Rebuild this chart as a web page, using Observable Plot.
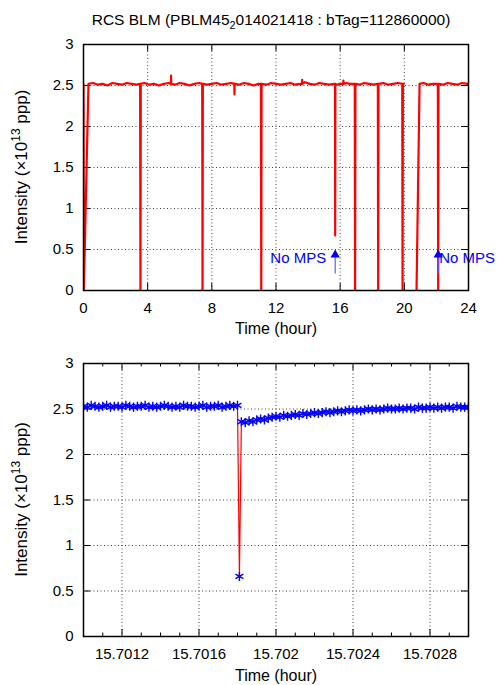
<!DOCTYPE html>
<html><head><meta charset="utf-8">
<script src="https://cdn.jsdelivr.net/npm/d3@7"></script>
<script src="https://cdn.jsdelivr.net/npm/@observablehq/plot@0.6"></script>
<style>
body{margin:0;background:#fff;}
#wrap{position:relative;width:497px;height:685px;font-family:"Liberation Sans",Arial,sans-serif;}
#title{position:absolute;top:12px;left:271px;transform:translateX(-50%);white-space:nowrap;font-size:15.5px;line-height:15px;color:#000;}
#title sub{font-size:70%;vertical-align:-4px;line-height:0;}
#p1{position:absolute;top:30px;left:0;}
#p2{position:absolute;top:345px;left:0;}
</style></head>
<body><div id="wrap"><div id="title">RCS BLM (PBLM45<sub>2</sub>014021418 : bTag=112860000)</div><div id="p1"></div><div id="p2"></div></div>
<script>
// ---------- data: top panel (24 h overview) ----------
const topTime = [0.00,0.02,0.31,0.6,0.9,1.2,1.5,1.8,2.1,2.4,2.7,3.0,3.3,3.53,3.55,3.57,3.8,4.1,4.4,4.7,5.0,5.3,5.45,5.46,5.47,5.7,6.0,6.3,6.6,6.9,7.2,7.40,7.42,7.44,7.7,8.0,8.3,8.6,8.9,9.2,9.40,9.41,9.42,9.7,10.0,10.3,10.6,10.9,11.06,11.08,11.10,11.4,11.7,12.0,12.3,12.6,12.9,13.2,13.5,13.62,13.63,13.64,13.8,14.1,14.4,14.7,15.0,15.3,15.68,15.69,15.70,15.8,16.0,16.19,16.2,16.21,16.4,16.6,16.91,16.93,16.95,17.2,17.5,17.8,18.1,18.35,18.37,18.39,18.7,19.0,19.3,19.6,19.87,19.89,19.91,19.97,19.98,20.76,20.95,21.2,21.5,21.8,22.09,22.11,22.13,22.4,22.7,23.0,23.3,23.6,24.0];
const topValue = [2.52,0.00,2.52,2.53,2.51,2.52,2.50,2.53,2.52,2.51,2.53,2.52,2.51,2.52,0.00,2.52,2.53,2.51,2.52,2.50,2.52,2.53,2.52,2.62,2.52,2.51,2.53,2.52,2.50,2.52,2.53,2.52,0.00,2.52,2.51,2.52,2.53,2.51,2.52,2.53,2.52,2.39,2.52,2.51,2.53,2.52,2.50,2.52,2.52,0.00,2.52,2.51,2.53,2.52,2.51,2.52,2.53,2.51,2.52,2.52,2.57,2.52,2.54,2.52,2.51,2.53,2.52,2.51,2.52,0.67,2.52,2.51,2.52,2.52,2.56,2.52,2.53,2.52,2.52,0.00,2.52,2.51,2.53,2.52,2.51,2.52,0.00,2.52,2.53,2.51,2.52,2.53,2.52,0.00,2.52,2.52,null,0.00,2.52,2.53,2.51,2.52,2.52,0.00,2.52,2.51,2.53,2.52,2.51,2.53,2.52];
const mpsTime = [15.69, 22.11];
const mpsLabel = ["No MPS", "No MPS"];

// ---------- data: bottom panel (zoom on 15.7 h) ----------
const botTime = [15.70100,15.70102,15.70104,15.70106,15.70108,15.70110,15.70112,15.70114,15.70116,15.70118,
15.70120,15.70122,15.70124,15.70126,15.70128,15.70130,15.70132,15.70134,15.70136,15.70138,
15.70140,15.70142,15.70144,15.70146,15.70148,15.70150,15.70152,15.70154,15.70156,15.70158,
15.70160,15.70162,15.70164,15.70166,15.70168,15.70170,15.70172,15.70174,15.70176,15.70178,15.70180,
15.70181,15.70182,
15.70184,15.70186,15.70188,15.70190,15.70192,15.70194,15.70196,15.70198,
15.70200,15.70202,15.70204,15.70206,15.70208,15.70210,15.70212,15.70214,15.70216,15.70218,
15.70220,15.70222,15.70224,15.70226,15.70228,15.70230,15.70232,15.70234,15.70236,15.70238,
15.70240,15.70242,15.70244,15.70246,15.70248,15.70250,15.70252,15.70254,15.70256,15.70258,
15.70260,15.70262,15.70264,15.70266,15.70268,15.70270,15.70272,15.70274,15.70276,15.70278,
15.70280,15.70282,15.70284,15.70286,15.70288,15.70290,15.70292,15.70294,15.70296,15.70298,15.70300];
const botValue = [2.53,2.52,2.54,2.53,2.52,2.53,2.54,2.52,2.53,2.53,
2.52,2.54,2.53,2.52,2.53,2.53,2.54,2.52,2.53,2.52,
2.53,2.54,2.53,2.52,2.53,2.52,2.54,2.53,2.53,2.52,
2.53,2.54,2.52,2.53,2.53,2.54,2.52,2.53,2.54,2.53,2.54,
0.66,2.36,
2.35,2.37,2.36,2.38,2.39,2.38,2.40,2.41,
2.42,2.41,2.43,2.42,2.43,2.44,2.43,2.45,2.44,2.45,
2.46,2.45,2.46,2.47,2.46,2.47,2.48,2.47,2.48,2.49,
2.48,2.49,2.48,2.49,2.50,2.49,2.50,2.49,2.50,2.51,
2.50,2.50,2.51,2.50,2.51,2.51,2.50,2.52,2.51,2.51,
2.52,2.51,2.52,2.51,2.52,2.52,2.51,2.53,2.52,2.52,2.52];

// ---------- ticks ----------
const yTicks = [0, 0.5, 1, 1.5, 2, 2.5, 3];
const yTickLabels = ["0", "0.5", "1", "1.5", "2", "2.5", "3"];
const topXTicks = [0, 4, 8, 12, 16, 20, 24];
const topXTickLabels = ["0", "4", "8", "12", "16", "20", "24"];
const botXTicks = [15.7012, 15.7016, 15.7020, 15.7024, 15.7028];
const botXTickLabels = ["15.7012", "15.7016", "15.702", "15.7024", "15.7028"];
const botXMinor = [15.7011, 15.7013, 15.7014, 15.7015, 15.7017, 15.7018, 15.7019, 15.7021, 15.7022, 15.7023, 15.7025, 15.7026, 15.7027, 15.7029];

const FONT = '"Liberation Sans", Arial, sans-serif';
const topData = topTime.map((t, i) => ({t, v: topValue[i]}));
const botData = botTime.map((t, i) => ({t, v: botValue[i]}));
const mps = mpsTime.map((t, i) => ({t, label: mpsLabel[i]}));
const gridStyle = {stroke: "#000", strokeOpacity: 0.75, strokeDasharray: "1,2.5", strokeWidth: 1};
const tickStyle = {stroke: "#000", strokeWidth: 1};

function yTitle(svg, cx, cy) {
  const t = d3.select(svg).append("text")
    .attr("transform", `translate(${cx},${cy}) rotate(-90)`)
    .attr("text-anchor", "middle")
    .attr("font-family", FONT).attr("font-size", 17).attr("fill", "#000");
  t.append("tspan").text("Intensity (\u00d710");
  t.append("tspan").attr("font-size", 12).attr("dy", -7).text("13");
  t.append("tspan").attr("dy", 7).text(" ppp)");
}
function xTitle(svg, cx, y) {
  d3.select(svg).append("text").attr("x", cx).attr("y", y)
    .attr("text-anchor", "middle").attr("font-family", FONT).attr("font-size", 16).attr("fill", "#000")
    .text("Time (hour)");
}

// ---------- top panel ----------
const p1 = Plot.plot({
  width: 497, height: 315, marginTop: 14, marginBottom: 55, marginLeft: 83, marginRight: 29,
  style: {fontFamily: FONT, fontSize: "15px", background: "white", color: "black", overflow: "visible"},
  x: {domain: [0, 24]},
  y: {domain: [0, 3]},
  marks: [
    Plot.ruleX(topXTicks.slice(1, -1), gridStyle),
    Plot.ruleY(yTicks.slice(1, -1), gridStyle),
    Plot.ruleX(topXTicks, {...tickStyle, y1: 0, y2: 0.085}),
    Plot.ruleX(topXTicks, {...tickStyle, y1: 3, y2: 2.915}),
    Plot.ruleY(yTicks, {...tickStyle, x1: 0, x2: 0.436}),
    Plot.ruleY(yTicks, {...tickStyle, x1: 24, x2: 23.564}),
    Plot.line(topData, {x: "t", y: "v", stroke: "#ff0000", strokeWidth: 2.2, clip: true}),
    Plot.ruleX(mps, {x: "t", y1: 0.2, y2: 0.44, stroke: "#5c5cff", strokeWidth: 1.2}),
    Plot.dot(mps, {x: "t", y: 0.434, symbol: "triangle", r: 3.45, fill: "#0000ff", stroke: "none"}),
    Plot.text(mps.slice(0, 1), {x: "t", y: 0.39, text: "label", textAnchor: "end", dx: -9, fill: "#0000ff", fontSize: 15}),
    Plot.text(mps.slice(1, 2), {x: "t", y: 0.39, text: "label", textAnchor: "start", dx: 1, fill: "#0000ff", fontSize: 15}),
    Plot.frame({stroke: "#000", strokeWidth: 1.5}),
    Plot.axisX(topXTicks, {tickSize: 0, tickPadding: 12, label: null, tickFormat: d => topXTickLabels[topXTicks.indexOf(d)]}),
    Plot.axisY(yTicks, {tickSize: 0, tickPadding: 10, label: null, tickFormat: d => yTickLabels[yTicks.indexOf(d)]})
  ]
});
yTitle(p1, 27, 137);
xTitle(p1, 276, 304);
document.getElementById("p1").appendChild(p1);

// ---------- bottom panel ----------
const p2 = Plot.plot({
  width: 497, height: 340, marginTop: 18, marginBottom: 49, marginLeft: 83, marginRight: 29,
  style: {fontFamily: FONT, fontSize: "15px", background: "white", color: "black", overflow: "visible"},
  x: {domain: [15.7010, 15.7030]},
  y: {domain: [0, 3]},
  marks: [
    Plot.ruleX(botXTicks, gridStyle),
    Plot.ruleY(yTicks.slice(1, -1), gridStyle),
    Plot.ruleX(botXTicks, {...tickStyle, y1: 0, y2: 0.077}),
    Plot.ruleX(botXTicks, {...tickStyle, y1: 3, y2: 2.923}),
    Plot.ruleX(botXMinor, {...tickStyle, y1: 0, y2: 0.038}),
    Plot.ruleX(botXMinor, {...tickStyle, y1: 3, y2: 2.962}),
    Plot.ruleY(yTicks, {...tickStyle, x1: 15.7010, x2: 15.7010364}),
    Plot.ruleY(yTicks, {...tickStyle, x1: 15.7030, x2: 15.7029636}),
    Plot.line(botData, {x: "t", y: "v", stroke: "#ff0000", strokeWidth: 1.2, clip: true}),
    Plot.dot(botData, {x: "t", y: "v", symbol: "asterisk", r: 4.3, stroke: "#0000ff", strokeWidth: 1.4, clip: true}),
    Plot.frame({stroke: "#000", strokeWidth: 1.5}),
    Plot.axisX(botXTicks, {tickSize: 0, tickPadding: 12, label: null, tickFormat: d => botXTickLabels[botXTicks.indexOf(d)]}),
    Plot.axisY(yTicks, {tickSize: 0, tickPadding: 10, label: null, tickFormat: d => yTickLabels[yTicks.indexOf(d)]})
  ]
});
yTitle(p2, 27, 154.5);
xTitle(p2, 276, 336);
document.getElementById("p2").appendChild(p2);
</script></body></html>
